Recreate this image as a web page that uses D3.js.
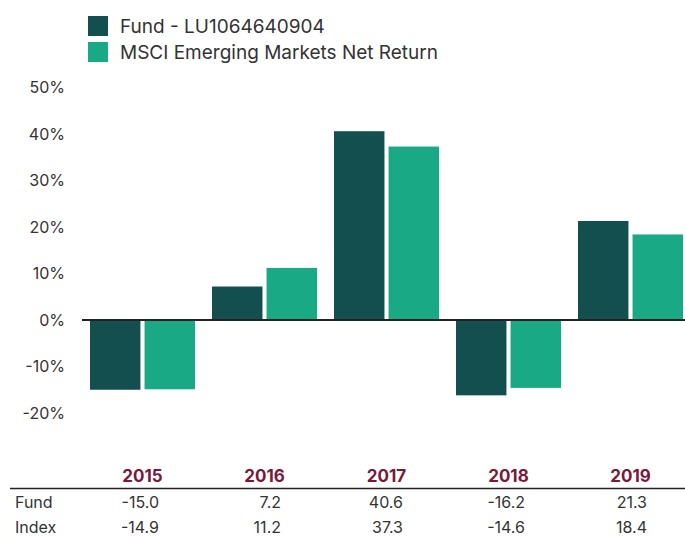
<!DOCTYPE html>
<html>
<head>
<meta charset="utf-8">
<script src="https://cdn.jsdelivr.net/npm/d3@7"></script>
<style>
  body { margin: 0; background: #fff; }
  text { font-family: Inter, "Noto Sans", sans-serif; }
</style>
</head>
<body>
<svg id="chart" width="685" height="536"></svg>
<script>
// data
const years = ["2015", "2016", "2017", "2018", "2019"];
const fundValues = [-15.0, 7.2, 40.6, -16.2, 21.3];
const indexValues = [-14.9, 11.2, 37.3, -14.6, 18.4];
const seriesKeys = ["fund", "index"];
const seriesLabels = ["Fund - LU1064640904", "MSCI Emerging Markets Net Return"];
const rowLabels = ["Fund", "Index"];
const yTicks = [-20, -10, 0, 10, 20, 30, 40, 50];

const colors = { fund: "#134f4f", index: "#1aa985" };
const textColor = "#333";
const yearColor = "#7a1838";

const rows = years.map((y, i) => ({ year: y, fund: fundValues[i], index: indexValues[i] }));

const svg = d3.select("#chart");

const x0 = d3.scaleBand()
  .domain(years)
  .range([81.5, 691.5])
  .paddingInner(0.139)
  .paddingOuter(0.0695);

const x1 = d3.scaleBand()
  .domain(seriesKeys)
  .range([0, x0.bandwidth()])
  .paddingInner(0.075);

const y = d3.scaleLinear()
  .domain([-20, 50])
  .range([413, 87.5]);

// y tick labels (no axis line)
svg.append("g")
  .selectAll("text")
  .data(yTicks)
  .join("text")
  .attr("x", 65)
  .attr("y", d => y(d))
  .attr("dy", "0.35em")
  .attr("text-anchor", "end")
  .attr("font-size", 16)
  .attr("fill", textColor)
  .text(d => d + "%");

// bars
svg.append("g")
  .selectAll("g")
  .data(rows)
  .join("g")
  .attr("transform", d => `translate(${x0(d.year)},0)`)
  .selectAll("rect")
  .data(d => seriesKeys.map(k => ({ key: k, value: d[k] })))
  .join("rect")
  .attr("x", d => x1(d.key))
  .attr("width", x1.bandwidth())
  .attr("y", d => y(Math.max(0, d.value)))
  .attr("height", d => Math.abs(y(d.value) - y(0)))
  .attr("fill", d => colors[d.key]);

// zero line
svg.append("line")
  .attr("x1", 82).attr("x2", 685)
  .attr("y1", y(0)).attr("y2", y(0))
  .attr("stroke", "#222")
  .attr("stroke-width", 2);

// legend
const legend = svg.append("g")
  .selectAll("g")
  .data(seriesKeys)
  .join("g")
  .attr("transform", (d, i) => `translate(88,${16 + i * 26})`);

legend.append("rect")
  .attr("width", 20).attr("height", 20)
  .attr("fill", d => colors[d]);

legend.append("text")
  .attr("x", 32).attr("y", 10)
  .attr("dy", "0.35em")
  .attr("font-size", 19)
  .attr("fill", textColor)
  .text((d, i) => seriesLabels[i]);

// table under the chart
svg.append("g")
  .selectAll("text")
  .data(years)
  .join("text")
  .attr("x", d => x0(d) + x0.bandwidth() / 2)
  .attr("y", 482)
  .attr("text-anchor", "middle")
  .attr("font-size", 17)
  .attr("font-weight", 700)
  .attr("fill", yearColor)
  .text(d => d);

svg.append("line")
  .attr("x1", 10).attr("x2", 685)
  .attr("y1", 488.5).attr("y2", 488.5)
  .attr("stroke", "#222")
  .attr("stroke-width", 1.5);

const tableRows = [fundValues, indexValues];
tableRows.forEach((vals, r) => {
  const rowY = 508 + r * 25;
  svg.append("text")
    .attr("x", 15)
    .attr("y", rowY)
    .attr("font-size", 16)
    .attr("fill", textColor)
    .text(rowLabels[r]);
  svg.append("g")
    .selectAll("text")
    .data(vals)
    .join("text")
    .attr("x", (d, i) => x0(years[i]) + x0.bandwidth() / 2 + 16.5)
    .attr("y", rowY)
    .attr("text-anchor", "end")
    .attr("font-size", 16)
    .attr("fill", textColor)
    .text(d => d.toFixed(1));
});
</script>
</body>
</html>
